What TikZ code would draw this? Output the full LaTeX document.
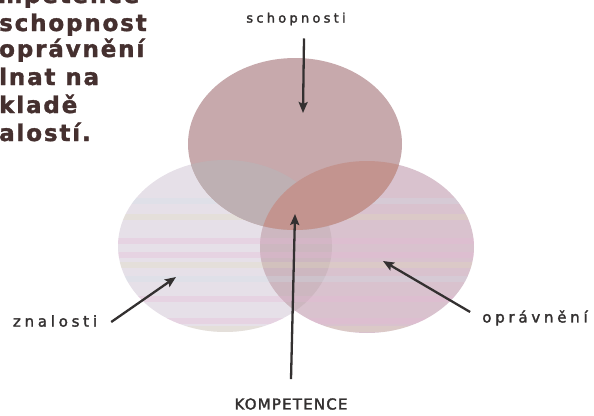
\documentclass[tikz,border=0pt]{standalone}
\usepackage{fontspec}
\setmainfont{DejaVu Sans}
\newfontfamily\headfont[LetterSpace=8,FakeBold=1.5]{DejaVu Sans}
\newfontfamily\lblfont[LetterSpace=25,FakeBold=2]{DejaVu Sans}
\newfontfamily\capfont[LetterSpace=8,FakeBold=2]{DejaVu Sans}
\usetikzlibrary{arrows.meta,shapes.geometric}
\definecolor{ink}{HTML}{333030}
\definecolor{headink}{HTML}{45302F}
\definecolor{leftfill}{HTML}{E6E0E8}
\definecolor{rightfill}{HTML}{D9C2CE}
\definecolor{lrfill}{HTML}{CDB7C0}
\definecolor{topfill}{HTML}{C7A9AC}
\definecolor{tlfill}{HTML}{BEB0B3}
\definecolor{trfill}{HTML}{C3948F}
\definecolor{bandpink}{HTML}{E8B4D6}
\definecolor{bandyel}{HTML}{E2DDB8}
\definecolor{bandblue}{HTML}{CFE0EA}

\begin{document}
\begin{tikzpicture}[x=1pt,y=-1pt,
  disc/.style={ellipse,minimum width=214pt,minimum height=172pt,inner sep=0pt},
  lbl/.style={text=ink,font=\lblfont\fontsize{15}{18}\selectfont,inner sep=0pt},
  head/.style={anchor=base west,text=headink,inner sep=0pt,
               font=\headfont\bfseries\fontsize{23}{26}\selectfont},
  arrow/.style={-{Stealth[length=11pt,width=9pt,inset=2pt]},line width=2.3pt,draw=ink}]
\useasboundingbox (0,0) rectangle (594,415);

% the three sets
\node[disc,fill=leftfill] (znal) at (225,246) {};
\node[disc,fill=rightfill] (oprav) at (367,247) {};
\begin{scope}
  \clip (znal.center) ellipse [x radius=107,y radius=86];
  \fill[lrfill] (oprav.center) ellipse [x radius=107,y radius=86];
\end{scope}
% faint colour bands of the print
\begin{scope}
  \clip (znal.center) ellipse [x radius=107,y radius=86]
        (oprav.center) ellipse [x radius=107,y radius=86];
  \foreach \yy/\cc in {198/bandblue,214/bandyel,238/bandpink,252/bandpink,
                       262/bandyel,276/bandblue,296/bandpink,318/bandpink,326/bandyel}
    \fill[\cc,opacity=.28] (110,\yy) rectangle (480,\yy+6);
\end{scope}
\node[disc,fill=topfill] (schop) at (295,144) {};
\begin{scope}
  \clip (schop.center) ellipse [x radius=107,y radius=86];
  \fill[tlfill] (znal.center) ellipse [x radius=107,y radius=86];
  \fill[trfill] (oprav.center) ellipse [x radius=107,y radius=86];
\end{scope}

% heading, cut at the left edge
\begin{scope}
  \clip (0,0) rectangle (594,415);
  \node[head] (h0) at (-2,3) {mpetence};
  \node[head] (h1) at (-1,31) {schopnost};
  \node[head] (h2) at (-1,57) {oprávnění};
  \node[head] (h3) at (-1,85) {lnat na};
  \node[head] (h4) at (-1,113) {kladě};
  \node[head] (h5) at (-1,141) {alostí.};
\end{scope}

% labels and pointers
\node[lbl,font=\lblfont\fontsize{13}{15}\selectfont] (lblS) at (296,19) {schopnosti};
\node[lbl,font=\capfont\fontsize{15}{18}\selectfont] (lblK) at (291,404) {KOMPETENCE};
\node[lbl] (lblZ) at (55,321) {znalosti};
\node[lbl] (lblO) at (535,318) {oprávnění};
\coordinate (tipS) at (303,113);
\coordinate (tipK) at (295,214);
\coordinate (tipZ) at (176,277);
\coordinate (tipO) at (383,261);
\draw[arrow] ([xshift=8pt,yshift=-13pt]lblS.south) -- (tipS);
\draw[arrow] ([yshift=19pt]lblK.north) -- (tipK);
\draw[arrow] ([xshift=14pt,yshift=-1pt]lblZ.east) -- (tipZ);
\draw[arrow] ([xshift=-12pt,yshift=6pt]lblO.west) -- (tipO);
\end{tikzpicture}
\end{document}
